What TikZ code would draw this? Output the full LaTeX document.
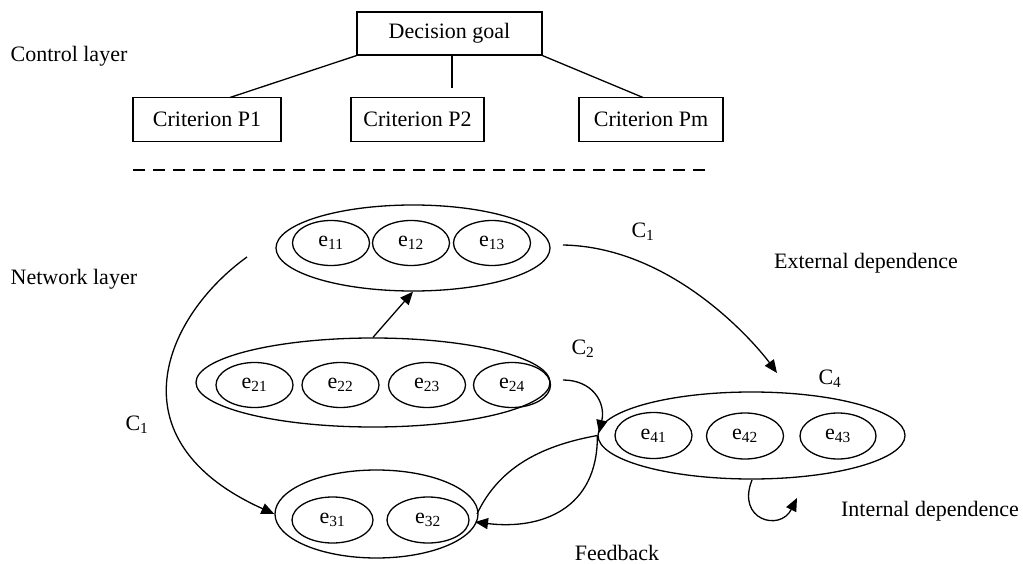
\documentclass[tikz,border=0pt]{standalone}
\usepackage{fontspec}
\setmainfont{Liberation Serif}
\usetikzlibrary{shapes.geometric,arrows.meta}
\begin{document}
\begin{tikzpicture}[x=1pt,y=-1pt,line width=1.3pt,
  font=\fontsize{22}{26}\selectfont,
  box/.style={draw,rectangle,inner sep=0pt,minimum height=44pt},
  elem/.style={draw,ellipse,inner sep=0pt,minimum width=77pt,minimum height=45pt},
  grp/.style={draw,ellipse,inner sep=0pt},
  arr/.style={-{Triangle[length=13pt,width=11pt]}},
  lbl/.style={inner sep=0pt}
]
\useasboundingbox (0,0) rectangle (1023,564);

% control layer
\node[lbl,anchor=west] (cl) at (10,56) {Control layer};
\node[box,minimum width=185pt,minimum height=43pt] (dg) at (449.5,33.5) {Decision goal};
\node[box,minimum width=148pt] (p1) at (207,119.5) {Criterion P1};
\node[box,minimum width=133pt] (p2) at (417.5,119.5) {Criterion P2};
\node[box,minimum width=144pt] (pm) at (651,119.5) {Criterion Pm};
\coordinate (p1t) at (230,97.5);
\coordinate (pmt) at (643,97.5);
\coordinate (midend) at (452,88);
\draw (dg.south west) -- (p1t);
\draw (dg.south east) -- (pmt);
\draw (dg.south -| midend) -- (midend);
\coordinate (dl) at (133,170);
\coordinate (dr) at (707,170);
\draw[line width=1.1pt,dash pattern=on 12pt off 8pt] (dl) -- (dr);

% network layer
\node[lbl,anchor=west] (nl) at (10,279) {Network layer};

\node[grp,minimum width=274pt,minimum height=86pt] (c1) at (413,248) {};
\node[elem] (e11) at (331,243) {e\textsubscript{11}};
\node[elem] (e12) at (411,243) {e\textsubscript{12}};
\node[elem] (e13) at (492,243) {e\textsubscript{13}};

\node[grp,minimum width=354pt,minimum height=89pt] (c2) at (373,382.5) {};
\node[elem] (e21) at (254.5,385) {e\textsubscript{21}};
\node[elem] (e22) at (340.5,385) {e\textsubscript{22}};
\node[elem] (e23) at (427,385) {e\textsubscript{23}};
\node[elem] (e24) at (512,385) {e\textsubscript{24}};

\node[grp,minimum width=203pt,minimum height=88pt] (c3) at (376.5,514) {};
\node[elem,minimum width=81pt,minimum height=46pt] (e31) at (332.5,520) {e\textsubscript{31}};
\node[elem,minimum width=82pt,minimum height=46pt] (e32) at (428,520) {e\textsubscript{32}};

\node[grp,minimum width=307pt,minimum height=87pt] (c4) at (751.5,435.5) {};
\node[elem,minimum height=46pt] (e41) at (653.5,435.5) {e\textsubscript{41}};
\node[elem,minimum height=46pt] (e42) at (745,436) {e\textsubscript{42}};
\node[elem,minimum width=76pt,minimum height=46pt] (e43) at (838,436) {e\textsubscript{43}};

% labels
\node[lbl] (lc1a) at (643,232) {C\textsubscript{1}};
\node[lbl] (lc2) at (583,349) {C\textsubscript{2}};
\node[lbl] (lc4) at (830,379) {C\textsubscript{4}};
\node[lbl] (lc1b) at (137,425) {C\textsubscript{1}};
\node[lbl] (ext) at (866,263) {External dependence};
\node[lbl] (int) at (930,511) {Internal dependence};
\node[lbl] (fb) at (617,553) {Feedback};

% connectors
\coordinate (c1r) at (563,245);
\coordinate (c4t) at (777,373);
\draw[arr] (c1r) .. controls (675,247) and (758,347) .. (c4t);

\draw[arr] (c2.north) -- (c1.south);

\coordinate (c1l) at (247,257);
\draw[arr] (c1l) .. controls (165,316) and (110,440) .. (c3.west);

\coordinate (c2r) at (563,380);
\coordinate (c4l) at (599,433);
\draw[arr] (c2r) .. controls (592,380) and (606,402) .. (c4l);

\coordinate (c3r) at (477,514);
\coordinate (c3ra) at (475,522);
\draw (c4.west) .. controls (545,445) and (500,465) .. (c3r);
\draw[arr] (c4.west) .. controls (598,510) and (540,530) .. (c3ra);

\coordinate (loopa) at (752,480);
\coordinate (loopb) at (797,498);
\draw[arr] (loopa) .. controls (736,520) and (780,532) .. (loopb);
\end{tikzpicture}
\end{document}
